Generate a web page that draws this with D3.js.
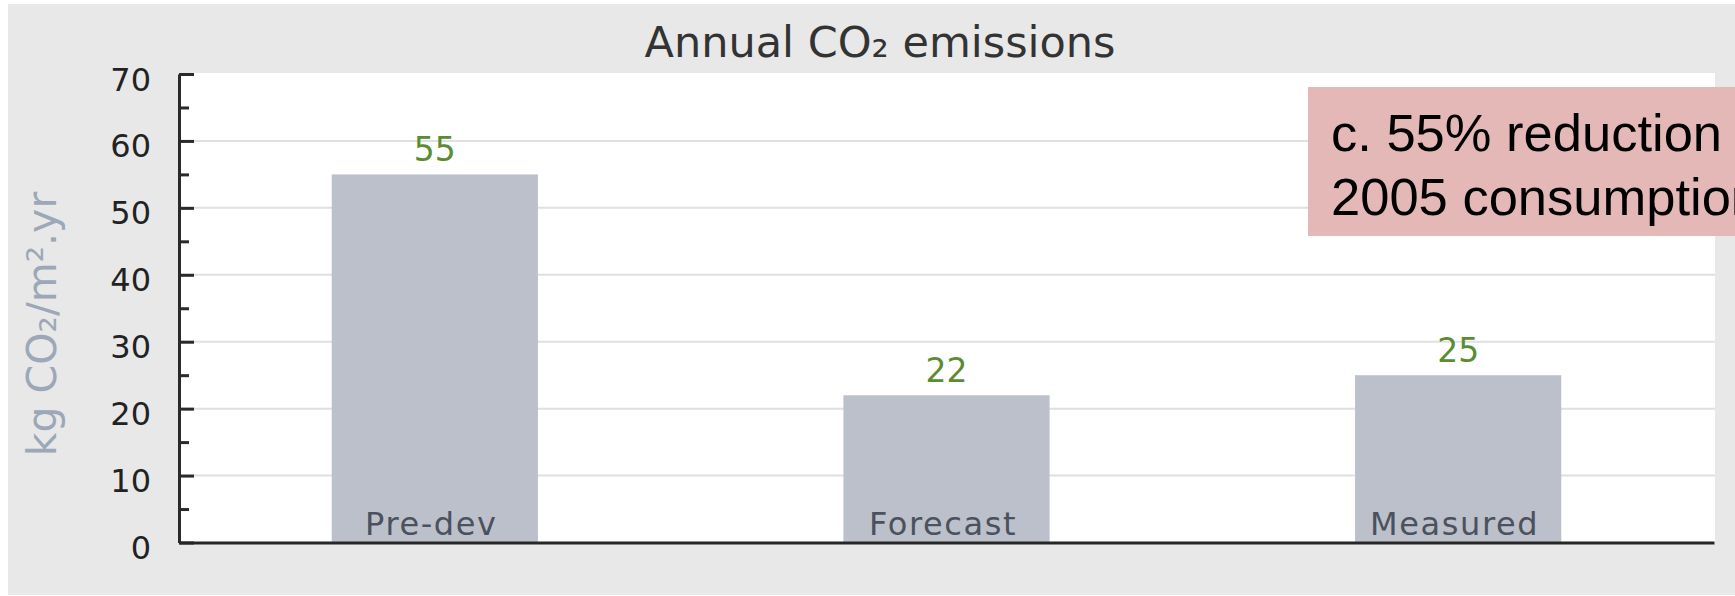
<!DOCTYPE html>
<html>
<head>
<meta charset="utf-8">
<script src="https://cdn.jsdelivr.net/npm/d3@7"></script>
<style>
  html, body { margin: 0; padding: 0; background: #ffffff; }
  svg { display: block; }
</style>
</head>
<body>
<svg id="chart" width="1735" height="596"></svg>
<script>
// Annual CO2 emissions per square metre, three stages
const categories = ["Pre-dev", "Forecast", "Measured"];
const emissions = [55, 22, 25];
const majorTicks = [0, 10, 20, 30, 40, 50, 60, 70];
const minorTicks = [5, 15, 25, 35, 45, 55, 65];
const noteLines = ["c. 55% reduction", "2005 consumption"];

const svg = d3.select("#chart");
const font = "'DejaVu Sans', Verdana, sans-serif";

const plot = { left: 179, right: 1715, top: 73, bottom: 542.5 };

const x = d3.scaleBand()
  .domain(categories)
  .range([plot.left, plot.right - 1])
  .paddingInner(0.597)
  .paddingOuter(0.2985);

const y = d3.scaleLinear()
  .domain([0, 70])
  .range([plot.bottom, 74]);

// outer panel and plotting area
svg.append("rect")
  .attr("x", 8).attr("y", 4)
  .attr("width", 1727).attr("height", 591)
  .attr("fill", "#e8e8e8");

svg.append("rect")
  .attr("x", plot.left).attr("y", plot.top)
  .attr("width", plot.right - plot.left).attr("height", plot.bottom - plot.top)
  .attr("fill", "#ffffff");

// horizontal grid
svg.append("g")
  .selectAll("line")
  .data(majorTicks.filter(d => d > 0 && d < 70))
  .join("line")
  .attr("x1", plot.left).attr("x2", plot.right)
  .attr("y1", d => y(d)).attr("y2", d => y(d))
  .attr("stroke", "#e0e0e0")
  .attr("stroke-width", 2);

// bars
svg.append("g")
  .selectAll("rect")
  .data(emissions)
  .join("rect")
  .attr("x", (d, i) => x(categories[i]))
  .attr("y", d => y(d))
  .attr("width", x.bandwidth())
  .attr("height", d => y(0) - y(d))
  .attr("fill", "#bcc0ca");

// category labels sit inside the bars, at their feet
svg.append("g")
  .selectAll("text")
  .data(categories)
  .join("text")
  .attr("x", d => x(d) + x.bandwidth() / 2 - 3.5)
  .attr("y", 535)
  .attr("text-anchor", "middle")
  .attr("font-family", font)
  .attr("font-size", 32)
  .attr("letter-spacing", "1.6px")
  .attr("fill", "#4b515d")
  .text(d => d);

// value labels above the bars
svg.append("g")
  .selectAll("text")
  .data(emissions)
  .join("text")
  .attr("x", (d, i) => x(categories[i]) + x.bandwidth() / 2)
  .attr("y", d => y(d) - 13)
  .attr("text-anchor", "middle")
  .attr("font-family", font)
  .attr("font-size", 33)
  .attr("fill", "#5a8c32")
  .text(d => d);

// y axis: major ticks with labels, minor ticks without
const yAxis = svg.append("g")
  .attr("transform", `translate(${plot.left},0)`)
  .call(d3.axisLeft(y)
    .tickValues(majorTicks)
    .tickSizeInner(-15)
    .tickSizeOuter(0)
    .tickPadding(28)
    .tickFormat(d3.format("d")));

yAxis.select(".domain").attr("stroke", "#2a2a2a").attr("stroke-width", 3);
yAxis.selectAll(".tick line").attr("stroke", "#2a2a2a").attr("stroke-width", 3);
yAxis.selectAll(".tick text")
  .attr("font-family", font)
  .attr("font-size", 32)
  .attr("fill", "#222222")
  .attr("dy", "0.5em");

const yMinor = svg.append("g")
  .attr("transform", `translate(${plot.left},0)`)
  .call(d3.axisLeft(y)
    .tickValues(minorTicks)
    .tickSizeInner(-10)
    .tickSizeOuter(0)
    .tickFormat(""));
yMinor.select(".domain").remove();
yMinor.selectAll(".tick line").attr("stroke", "#2a2a2a").attr("stroke-width", 3);

// x axis baseline
const xAxis = svg.append("g")
  .attr("transform", `translate(0,${plot.bottom})`)
  .call(d3.axisBottom(d3.scaleLinear().range([plot.left, plot.right - 1])).ticks(0).tickSize(0).tickFormat(""));
xAxis.select(".domain").attr("stroke", "#262626").attr("stroke-width", 3);

// title
svg.append("text")
  .attr("x", 880).attr("y", 57)
  .attr("text-anchor", "middle")
  .attr("font-family", font)
  .attr("font-size", 43)
  .attr("fill", "#333333")
  .text("Annual CO₂ emissions");

// y axis title
svg.append("text")
  .attr("transform", "translate(56,324) rotate(-90)")
  .attr("text-anchor", "middle")
  .attr("font-family", font)
  .attr("font-size", 41)
  .attr("fill", "#9ca8b7")
  .text("kg CO₂/m².yr");

// annotation box
svg.append("rect")
  .attr("x", 1308).attr("y", 87)
  .attr("width", 500).attr("height", 149)
  .attr("fill", "#e5b8b8");

svg.append("g")
  .selectAll("text")
  .data(noteLines)
  .join("text")
  .attr("x", 1331)
  .attr("y", (d, i) => 151 + i * 64)
  .attr("font-family", "'Liberation Sans', Arial, sans-serif")
  .attr("font-size", 52.5)
  .attr("fill", "#000000")
  .text(d => d);
</script>
</body>
</html>
